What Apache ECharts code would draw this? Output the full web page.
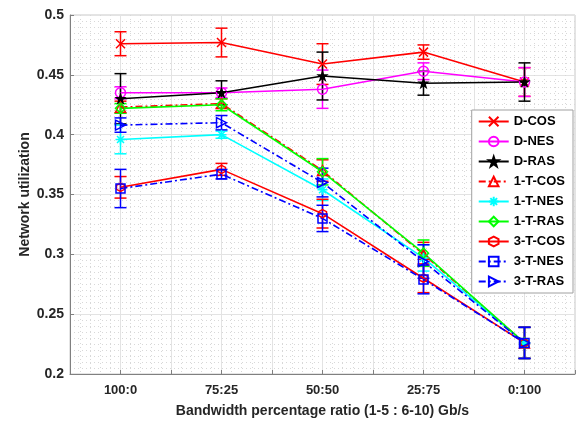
<!DOCTYPE html>
<html><head><meta charset="utf-8">
<script src="https://cdn.jsdelivr.net/npm/echarts@6/dist/echarts.min.js"></script>
<style>html,body{margin:0;padding:0;background:#fff}#c{width:584px;height:423px}</style>
</head><body><div id="c"></div>
<script>
const categories = ['100:0','75:25','50:50','25:75','0:100'];
const seriesNames = ['D-COS','D-NES','D-RAS','1-T-COS','1-T-NES','1-T-RAS','3-T-COS','3-T-NES','3-T-RAS'];
const dCOS   = [0.476, 0.477, 0.459, 0.469, 0.444];
const dNES   = [0.435, 0.435, 0.438, 0.453, 0.444];
const dRAS   = [0.430, 0.435, 0.449, 0.443, 0.444];
const t1COS  = [0.423, 0.426, 0.370, 0.300, 0.226];
const t1NES  = [0.396, 0.400, 0.354, 0.297, 0.226];
const t1RAS  = [0.422, 0.425, 0.369, 0.301, 0.226];
const t3COS  = [0.356, 0.371, 0.334, 0.280, 0.226];
const t3NES  = [0.355, 0.367, 0.330, 0.279, 0.226];
const t3RAS  = [0.408, 0.410, 0.360, 0.294, 0.226];
const errDCOS  = [0.010, 0.012, 0.017, 0.006, 0.012];
const errDNES  = [0.005, 0.004, 0.016, 0.007, 0.012];
const errDRAS  = [0.021, 0.010, 0.020, 0.010, 0.016];
const err1COS  = [0.005, 0.004, 0.009, 0.010, 0.013];
const err1NES  = [0.012, 0.003, 0.009, 0.011, 0.013];
const err1RAS  = [0.004, 0.005, 0.011, 0.011, 0.013];
const err3COS  = [0.009, 0.005, 0.012, 0.012, 0.013];
const err3NES  = [0.016, 0.004, 0.011, 0.012, 0.013];
const err3RAS  = [0.006, 0.006, 0.012, 0.014, 0.013];
const yTicks = [0.2, 0.25, 0.3, 0.35, 0.4, 0.45, 0.5];

const values = [dCOS,dNES,dRAS,t1COS,t1NES,t1RAS,t3COS,t3NES,t3RAS];
const errs = [errDCOS,errDNES,errDRAS,err1COS,err1NES,err1RAS,err3COS,err3NES,err3RAS];
const colors = ['#ff0000','#ff00ff','#000000','#ff0000','#00ffff','#00ff00','#ff0000','#0000ff','#0000ff'];
const dashDot = [7,3,2,3];
const lineTypes = ['solid','solid','solid',dashDot,'solid','solid','solid',dashDot,dashDot];
const symbols = [
  'path://M0,0L10,10M10,0L0,10',
  'path://M5,0A5,5,0,1,1,4.99,0Z',
  'path://M5,0L6.2,3.6L10,3.6L6.9,5.9L8.1,9.5L5,7.3L1.9,9.5L3.1,5.9L0,3.6L3.8,3.6Z',
  'path://M5,0L10,9L0,9Z',
  'path://M5,0L5,10M0,5L10,5M1.5,1.5L8.5,8.5M8.5,1.5L1.5,8.5',
  'path://M5,0L10,5L5,10L0,5Z',
  'path://M5,0L9.33,2.5L9.33,7.5L5,10L0.67,7.5L0.67,2.5Z',
  'path://M0,0L10,0L10,10L0,10Z',
  'path://M0,0L10,5L0,10Z'
];
const symbolSizes = [9,10,8,10,10,10,8,9,10];
const fills = ['transparent','transparent','#000','transparent','transparent','transparent','transparent','transparent','transparent'];

const series = [];
seriesNames.forEach((n,k)=>{
  series.push({
    name: n, type: 'line',
    data: values[k].map((v,i)=>[i,v]),
    symbol: symbols[k], symbolSize: symbolSizes[k], showSymbol: true,
    lineStyle: {color: colors[k], width: 1.6, type: lineTypes[k]},
    itemStyle: {color: fills[k], borderColor: colors[k], borderWidth: 1.5},
    z: 3
  });
});
seriesNames.forEach((n,k)=>{
  series.push({
    name: n + ' err', type: 'custom', silent: true, z: 2,
    data: values[k].map((v,i)=>[i, v-errs[k][i], v+errs[k][i]]),
    renderItem: function(params, api){
      const lo = api.coord([api.value(0), api.value(1)]);
      const hi = api.coord([api.value(0), api.value(2)]);
      const w = 6;
      const st = {stroke: colors[k], lineWidth: 1.5};
      return {type:'group', children:[
        {type:'line', shape:{x1:lo[0],y1:lo[1],x2:hi[0],y2:hi[1]}, style:st},
        {type:'line', shape:{x1:lo[0]-w,y1:lo[1],x2:lo[0]+w,y2:lo[1]}, style:st},
        {type:'line', shape:{x1:hi[0]-w,y1:hi[1],x2:hi[0]+w,y2:hi[1]}, style:st}
      ]};
    }
  });
});

const chart = echarts.init(document.getElementById('c'));
chart.setOption({
  animation: false,
  backgroundColor: '#fff',
  grid: {left: 70, right: 9, top: 15, bottom: 49, show: true, borderColor: '#c8c8c8', borderWidth: 1},
  xAxis: {
    type: 'value', min: -0.5, max: 4.5, interval: 0.5,
    name: 'Bandwidth percentage ratio (1-5 : 6-10) Gb/s', nameLocation: 'middle', nameGap: 30,
    nameTextStyle: {fontFamily: 'Liberation Sans', fontWeight: 'bold', fontSize: 14, color: '#262626'},
    axisLine: {show: true, onZero: false, lineStyle: {color: '#808080'}},
    axisTick: {show: true, inside: true, length: 4, lineStyle: {color: '#808080'}},
    axisLabel: {
      fontFamily: 'Liberation Sans', fontWeight: 'bold', fontSize: 13, color: '#262626', margin: 10,
      formatter: v => Number.isInteger(v) ? categories[v] : ''
    },
    splitLine: {show: true, lineStyle: {color: '#e3e3e3', width: 1}},
    minorTick: {show: false, splitNumber: 5},
    minorSplitLine: {show: true, lineStyle: {color: '#d8d8d8', type: [1,3], width: 1}}
  },
  yAxis: {
    type: 'value', min: yTicks[0], max: yTicks[yTicks.length-1], interval: 0.05,
    name: 'Network utilization', nameLocation: 'middle', nameGap: 38, nameMoveOverlap: false,
    nameTextStyle: {fontFamily: 'Liberation Sans', fontWeight: 'bold', fontSize: 14, color: '#262626'},
    axisLine: {show: true, onZero: false, lineStyle: {color: '#808080'}},
    axisTick: {show: true, inside: true, length: 4, lineStyle: {color: '#808080'}},
    axisLabel: {
      fontFamily: 'Liberation Sans', fontWeight: 'bold', fontSize: 14, color: '#262626', margin: 6,
      formatter: v => String(+v.toFixed(2))
    },
    splitLine: {show: true, lineStyle: {color: '#e3e3e3', width: 1}},
    minorTick: {show: false, splitNumber: 10},
    minorSplitLine: {show: true, lineStyle: {color: '#d8d8d8', type: [1,3], width: 1}}
  },
  legend: {
    data: seriesNames, orient: 'vertical', right: 11, top: 110,
    backgroundColor: '#fff', borderColor: '#a0a0a0', borderWidth: 1, borderRadius: 0,
    padding: [5, 8, 5, 6], itemGap: 7, itemWidth: 30, itemHeight: 12,
    textStyle: {fontFamily: 'Liberation Sans', fontWeight: 'bold', fontSize: 13, color: '#000'}
  },
  series: series
});
</script></body></html>
